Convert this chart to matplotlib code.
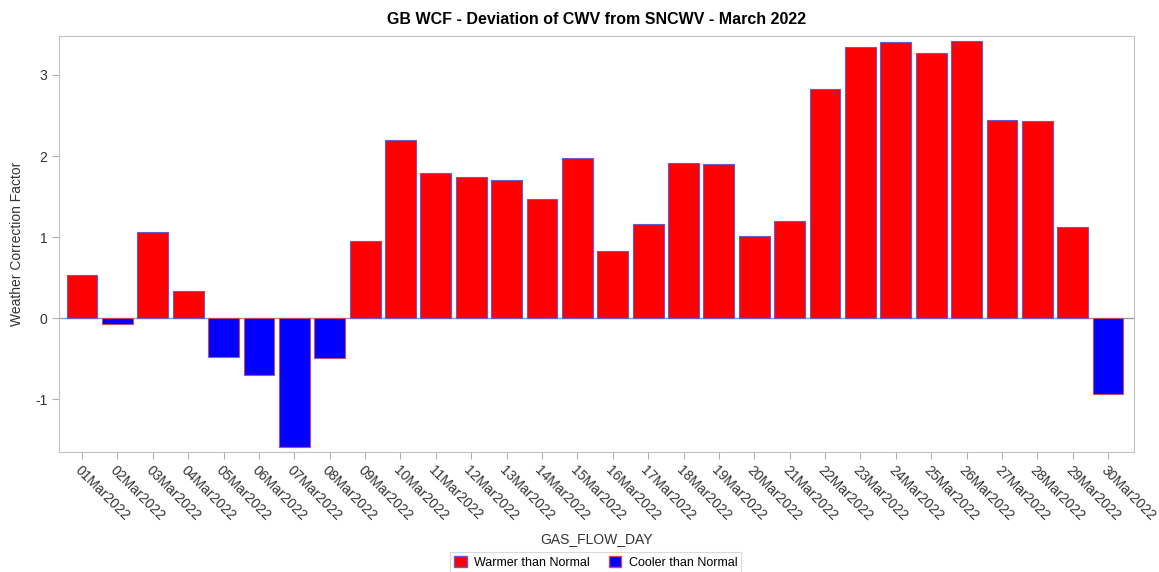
import matplotlib.pyplot as plt
from matplotlib.patches import Patch

plt.rcParams['font.family'] = ['Liberation Sans', 'DejaVu Sans']
plt.rcParams['axes.unicode_minus'] = False

days = ["%02dMar2022" % d for d in range(1, 31)]
wcf = [0.53, -0.07, 1.06, 0.33, -0.48, -0.70, -1.59, -0.49, 0.95, 2.20,
       1.79, 1.74, 1.70, 1.47, 1.98, 0.83, 1.16, 1.91, 1.90, 1.01,
       1.20, 2.83, 3.35, 3.41, 3.27, 3.42, 2.44, 2.43, 1.12, -0.93]

warm_col = "#ff0000"
cool_col = "#0000ff"
colors = [warm_col if v >= 0 else cool_col for v in wcf]
edges = ["#6a5acd" if v >= 0 else "#c0506a" for v in wcf]

fig = plt.figure(figsize=(11.59, 5.72), dpi=100)
ax = fig.add_axes([0.051, 0.21, 0.927, 0.727])

x = list(range(len(days)))
ax.bar(x, wcf, width=0.87, color=colors, edgecolor=edges, linewidth=0.8, zorder=3)
ax.axhline(0, color="#a0a0a0", linewidth=1, zorder=2)

ax.set_xlim(-0.65, 29.72)
ax.set_ylim(-1.65, 3.48)
ax.set_yticks([-1, 0, 1, 2, 3])
ax.set_xticks(x)
ax.set_xticklabels(days, rotation=-45, ha="left", rotation_mode="anchor")
ax.tick_params(axis="both", colors="#b0b0b0", labelcolor="#333333", labelsize=10, length=5)
for s in ax.spines.values():
    s.set_color("#c0c0c0")

ax.set_title("GB WCF - Deviation of CWV from SNCWV - March 2022",
             fontsize=11.5, fontweight="bold", pad=9)
ax.set_ylabel("Weather Correction Factor", fontsize=10, color="#333333", labelpad=8)
ax.set_xlabel("GAS_FLOW_DAY", fontsize=10, color="#333333", labelpad=6)

handles = [Patch(facecolor=warm_col, edgecolor="#6a5acd", label="Warmer than Normal"),
           Patch(facecolor=cool_col, edgecolor="#c0506a", label="Cooler than Normal")]
leg = fig.legend(handles=handles, loc="center", bbox_to_anchor=(0.514, 0.017), ncol=2,
                 fontsize=9, frameon=True, fancybox=False, handlelength=1, handleheight=1,
                 borderpad=0.3, columnspacing=1.5, handletextpad=0.6)
leg.get_frame().set_edgecolor("#d0d0d0")
leg.get_frame().set_linewidth(0.8)

fig.savefig("out.png", dpi=100)
